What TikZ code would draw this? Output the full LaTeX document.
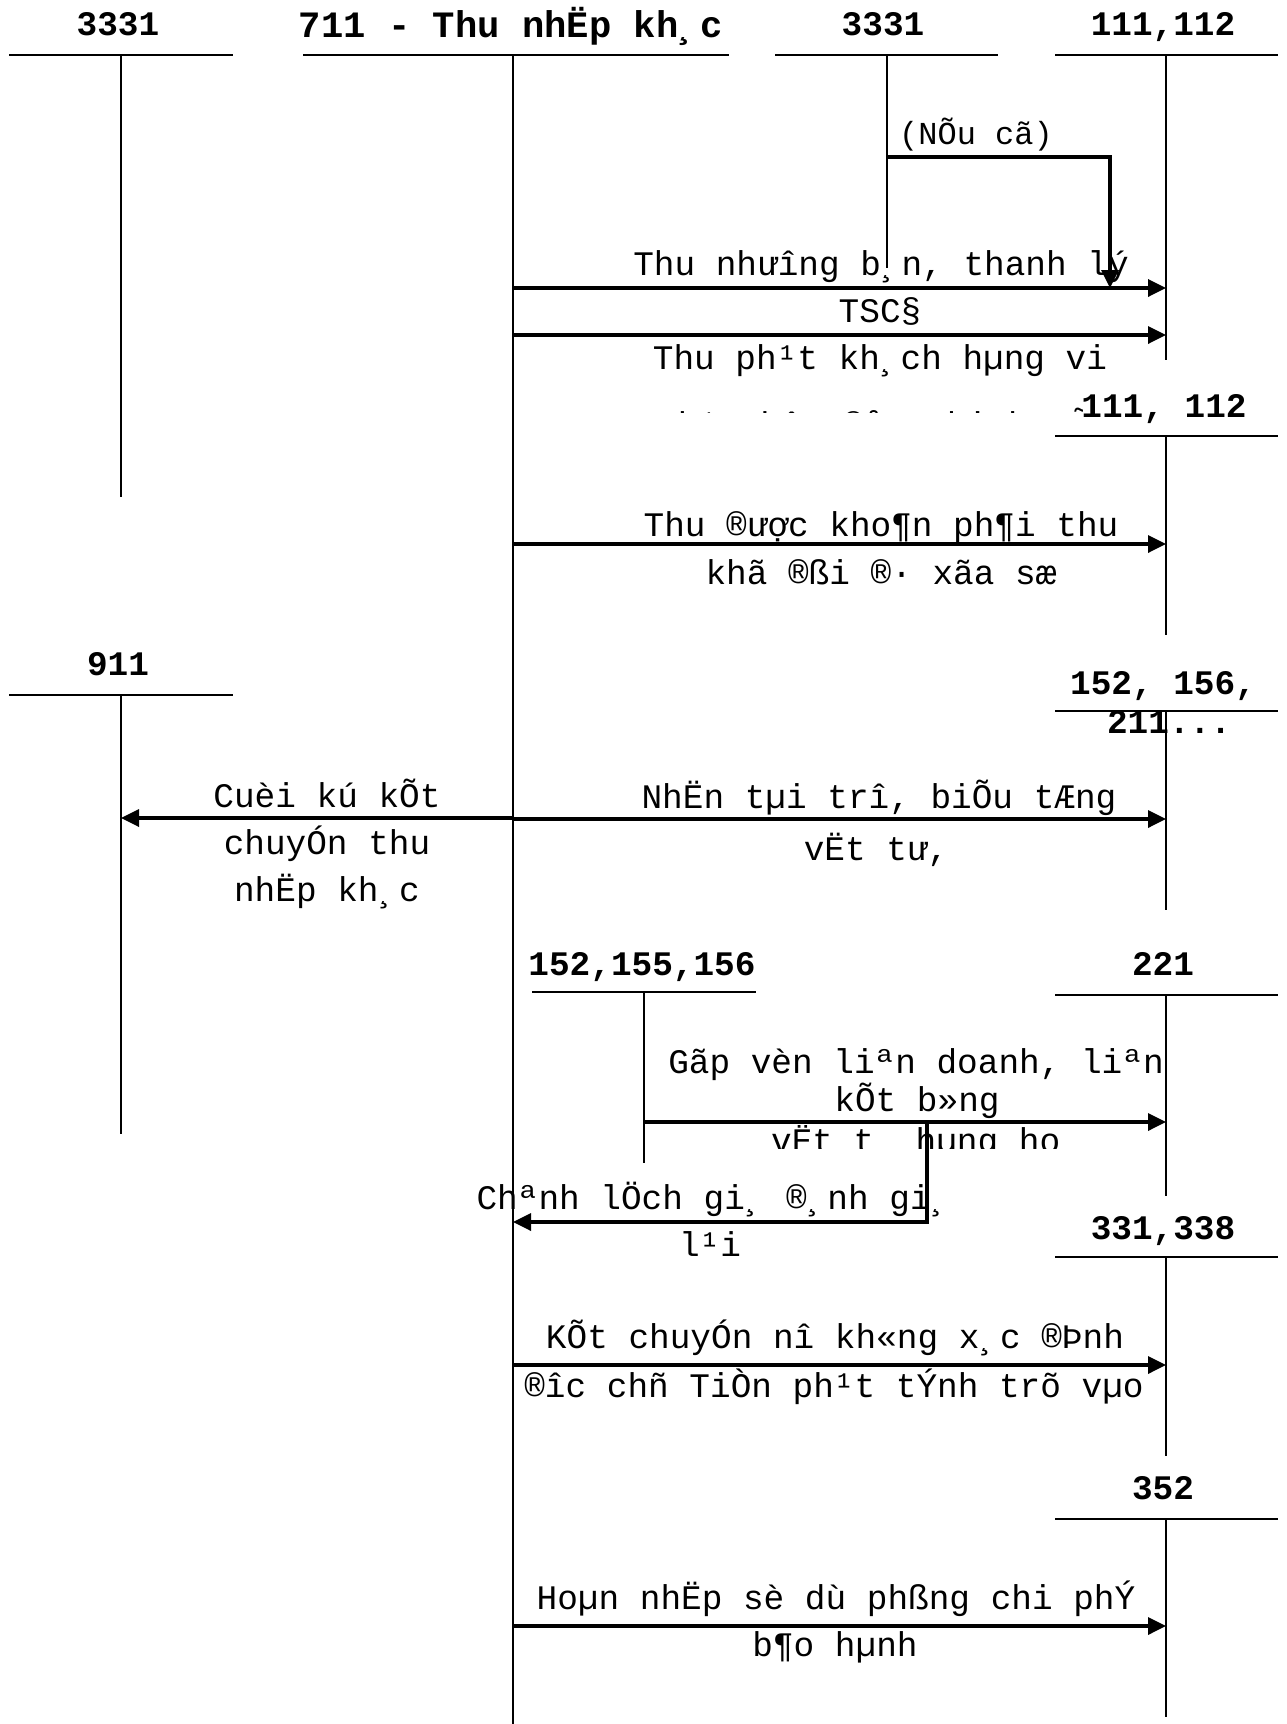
\documentclass[tikz,border=0pt]{standalone}
\usepackage{fontspec}
\setmainfont{Liberation Mono}
\usetikzlibrary{arrows.meta}
\begin{document}
\begin{tikzpicture}[x=0.5pt,y=-0.5pt,
  hdr/.style={font=\fontsize{17.2}{20}\selectfont\bfseries, inner sep=0pt, anchor=base},
  ttl/.style={font=\fontsize{18.6}{22}\selectfont\bfseries, inner sep=0pt, anchor=base},
  lbl/.style={font=\fontsize{17.2}{20}\selectfont, inner sep=0pt, anchor=base},
  acct/.style={line width=1.4pt},
  tline/.style={line width=1pt},
  flow/.style={line width=1.7pt,-{Triangle[length=9pt,width=8.5pt]}}]
\useasboundingbox[fill=white] (0,0) rectangle (1286,1724);

% ---------- account headers ----------
\node[hdr] (h3331L) at (118,35) {3331};
\node[ttl] (h711) at (511,38) {711 - Thu nhËp kh¸c};
\node[hdr] (h3331M) at (883,35) {3331};
\node[hdr] (h111a) at (1163,35) {111,112};
\node[hdr] (h111b) at (1164,417) {111, 112};
\node[hdr] (h152a) at (1163,694) {152, 156,};
\node[hdr] (h211) at (1169,733) {211...};
\node[hdr] (h911) at (118,675) {911};
\node[hdr] (h152b) at (642,975) {152,155,156};
\node[hdr] (h221) at (1163,975) {221};
\node[hdr] (h331) at (1163,1239) {331,338};
\node[hdr] (h352) at (1163,1499) {352};

% ---------- T-account lines ----------
% 3331 left
\coordinate (tA1) at (121,55); \coordinate (bA1) at (121,497);
\draw[acct] (9,55) -- (233,55);
\draw[tline] (tA1) -- (bA1);
% 711
\coordinate (tB) at (513,55); \coordinate (bB) at (513,1724);
\draw[acct] (303,55) -- (729,55);
\draw[tline] (tB) -- (bB);
% 3331 middle
\coordinate (tC) at (887,55); \coordinate (bC) at (887,268);
\draw[acct] (775,55) -- (998,55);
\draw[tline] (tC) -- (bC);
% 111,112
\coordinate (tD1) at (1166,55); \coordinate (bD1) at (1166,360);
\draw[acct] (1055,55) -- (1278,55);
\draw[tline] (tD1) -- (bD1);
% 111, 112 (second)
\coordinate (tD2) at (1166,436); \coordinate (bD2) at (1166,635);
\draw[acct] (1055,436) -- (1278,436);
\draw[tline] (tD2) -- (bD2);
% 152,156,211
\coordinate (tD3) at (1166,711); \coordinate (bD3) at (1166,910);
\draw[acct] (1055,711) -- (1278,711);
\draw[tline] (tD3) -- (bD3);
% 911
\coordinate (tA2) at (121,695); \coordinate (bA2) at (121,1134);
\draw[acct] (9,695) -- (233,695);
\draw[tline] (tA2) -- (bA2);
% 152,155,156
\coordinate (tE) at (644,992); \coordinate (bE) at (644,1163);
\draw[acct] (532,992) -- (756,992);
\draw[tline] (tE) -- (bE);
% 221
\coordinate (tD4) at (1166,995); \coordinate (bD4) at (1166,1196);
\draw[acct] (1055,995) -- (1278,995);
\draw[tline] (tD4) -- (bD4);
% 331,338
\coordinate (tD5) at (1166,1257); \coordinate (bD5) at (1166,1456);
\draw[acct] (1055,1257) -- (1278,1257);
\draw[tline] (tD5) -- (bD5);
% 352
\coordinate (tD6) at (1166,1519); \coordinate (bD6) at (1166,1717);
\draw[acct] (1055,1519) -- (1278,1519);
\draw[tline] (tD6) -- (bD6);

% ---------- connectors ----------
\coordinate (c1s) at (887,157); \coordinate (c1e) at (1110,288);
\draw[flow] (c1s) -| (c1e);
\node[lbl,font=\fontsize{16}{19}\selectfont] (lnc) at (976,144) {(NÕu cã)};

\coordinate (a1s) at (513,288); \coordinate (a1e) at (1166,288);
\draw[flow] (a1s) -- (a1e);
\coordinate (a2s) at (513,335); \coordinate (a2e) at (1166,335);
\draw[flow] (a2s) -- (a2e);
\coordinate (a3s) at (513,544); \coordinate (a3e) at (1166,544);
\draw[flow] (a3s) -- (a3e);
\coordinate (a4s) at (513,819); \coordinate (a4e) at (1166,819);
\draw[flow] (a4s) -- (a4e);
\coordinate (a5e) at (121,818);
\draw[flow] (a4s |- a5e) -- (a5e);
\coordinate (a6s) at (644,1122); \coordinate (a6e) at (1166,1122);
\draw[flow] (a6s) -- (a6e);
\coordinate (a7s) at (927,1122); \coordinate (a7e) at (513,1222);
\draw[flow] (a7s) |- (a7e);
\coordinate (a8s) at (513,1365); \coordinate (a8e) at (1166,1365);
\draw[flow] (a8s) -- (a8e);
\coordinate (a9s) at (513,1626); \coordinate (a9e) at (1166,1626);
\draw[flow] (a9s) -- (a9e);

% ---------- labels ----------
\node[lbl] (l1) at (881,275) {Thu nhưîng b¸n, thanh lý};
\node[lbl] (l2) at (880,322) {TSC§};
\node[lbl] (l3) at (880,369) {Thu ph¹t kh¸ch hµng vi};
\begin{scope}
  \clip (600,395) rectangle (1082,412);
  \node[lbl] (l3b) at (874,436) {ph¹m hîp ®ång kinh tÕ};
\end{scope}
\node[lbl] (l4) at (881,536) {Thu ®ược kho¶n ph¶i thu};
\node[lbl] (l5) at (881,584) {khã ®ßi ®· xãa sæ};
\node[lbl] (l6) at (879,808) {NhËn tµi trî, biÕu tÆng};
\node[lbl] (l7) at (876,860) {vËt tư,};
\node[lbl] (l8) at (327,807) {Cuèi kú kÕt};
\node[lbl] (l9) at (327,854) {chuyÓn thu};
\node[lbl] (l10) at (327,901) {nhËp kh¸c};
\node[lbl] (l11) at (916,1073) {Gãp vèn liªn doanh, liªn};
\node[lbl] (l12) at (917,1111) {kÕt b»ng};
\begin{scope}
  \clip (650,1125) rectangle (1150,1148);
  \node[lbl] (l13) at (926,1152) {vËt t\ \ hµng ho¸};
\end{scope}
\node[lbl] (l14) at (714,1209) {Chªnh lÖch gi¸ ®¸nh gi¸};
\node[lbl] (l15) at (710,1256) {l¹i};
\node[lbl] (l16) at (835,1348) {KÕt chuyÓn nî kh«ng x¸c ®Þnh};
\node[lbl] (l17) at (834,1397) {®îc chñ TiÒn ph¹t tÝnh trõ vµo};
\node[lbl] (l18) at (836,1609) {Hoµn nhËp sè dù phßng chi phÝ};
\node[lbl] (l19) at (835,1656) {b¶o hµnh};
\end{tikzpicture}
\end{document}
